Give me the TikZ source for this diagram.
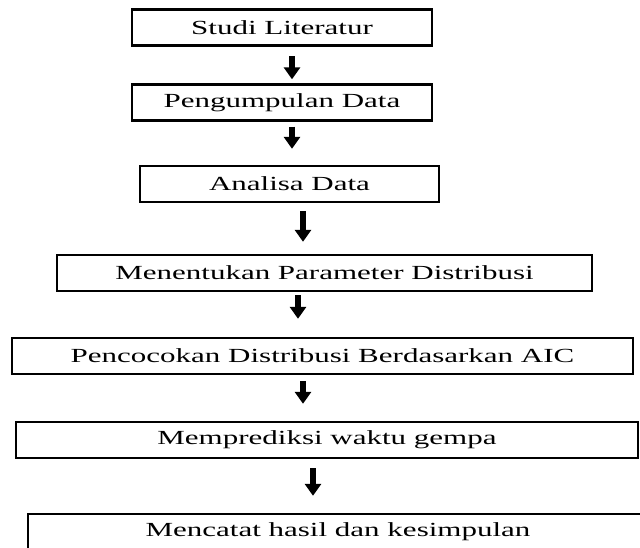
\documentclass[tikz,border=0pt]{standalone}
\usepackage{fontspec}
\setmainfont{Liberation Serif}[FakeStretch=1.55]
\usepackage{tikz}
\usetikzlibrary{arrows.meta, positioning}

\begin{document}
\begin{tikzpicture}[
        x=1pt, y=-1pt,
        % Define common styles for nodes
        step_box/.style={rectangle, draw, line width=2.4pt, inner sep=0pt, minimum height=36pt, text centered,
                         font=\fontsize{20}{23}\selectfont},
        down_arrow/.style={draw, line width=6pt, -{Triangle[width=16pt, length=12pt]}},
    ]
    \useasboundingbox (0,0) rectangle (640,547);

    % Steps of the research
    \node (studi) [step_box, minimum width=300pt] at (282,27.5) {Studi Literatur};
    \node (pengumpulan) [step_box, minimum width=300pt] at (282,102.5) {Pengumpulan Data};
    \node (analisa) [step_box, minimum width=299pt] at (289.5,184) {Analisa Data};
    \node (parameter) [step_box, minimum width=535pt] at (324.5,273) {Menentukan Parameter Distribusi};
    \node (pencocokan) [step_box, minimum width=621pt] at (322.5,356) {Pencocokan Distribusi Berdasarkan AIC};
    \node (prediksi) [step_box, minimum width=622pt] at (327,440) {Memprediksi waktu gempa};
    \node (kesimpulan) [step_box, minimum width=620pt] at (338,532) {Mencatat hasil dan kesimpulan};

    % Draw connections/arrows
    \draw[down_arrow, shorten <=9.5pt, shorten >=4pt] ([xshift=10pt]studi.south) -- ([xshift=10pt]pengumpulan.north);
    \draw[down_arrow, shorten <=5pt, shorten >=16pt] ([xshift=10pt]pengumpulan.south) -- ([xshift=2.5pt]analisa.north);
    \draw[down_arrow, shorten <=8pt, shorten >=12pt] ([xshift=13.5pt]analisa.south) -- ([xshift=-21.5pt]parameter.north);
    \draw[down_arrow, shorten <=3pt, shorten >=18pt] ([xshift=-26.5pt]parameter.south) -- ([xshift=-24.5pt]pencocokan.north);
    \draw[down_arrow, shorten <=6pt, shorten >=17pt] ([xshift=-19.5pt]pencocokan.south) -- ([xshift=-24pt]prediksi.north);
    \draw[down_arrow, shorten <=9pt, shorten >=17pt] ([xshift=-14pt]prediksi.south) -- ([xshift=-25pt]kesimpulan.north);

\end{tikzpicture}
\end{document}
